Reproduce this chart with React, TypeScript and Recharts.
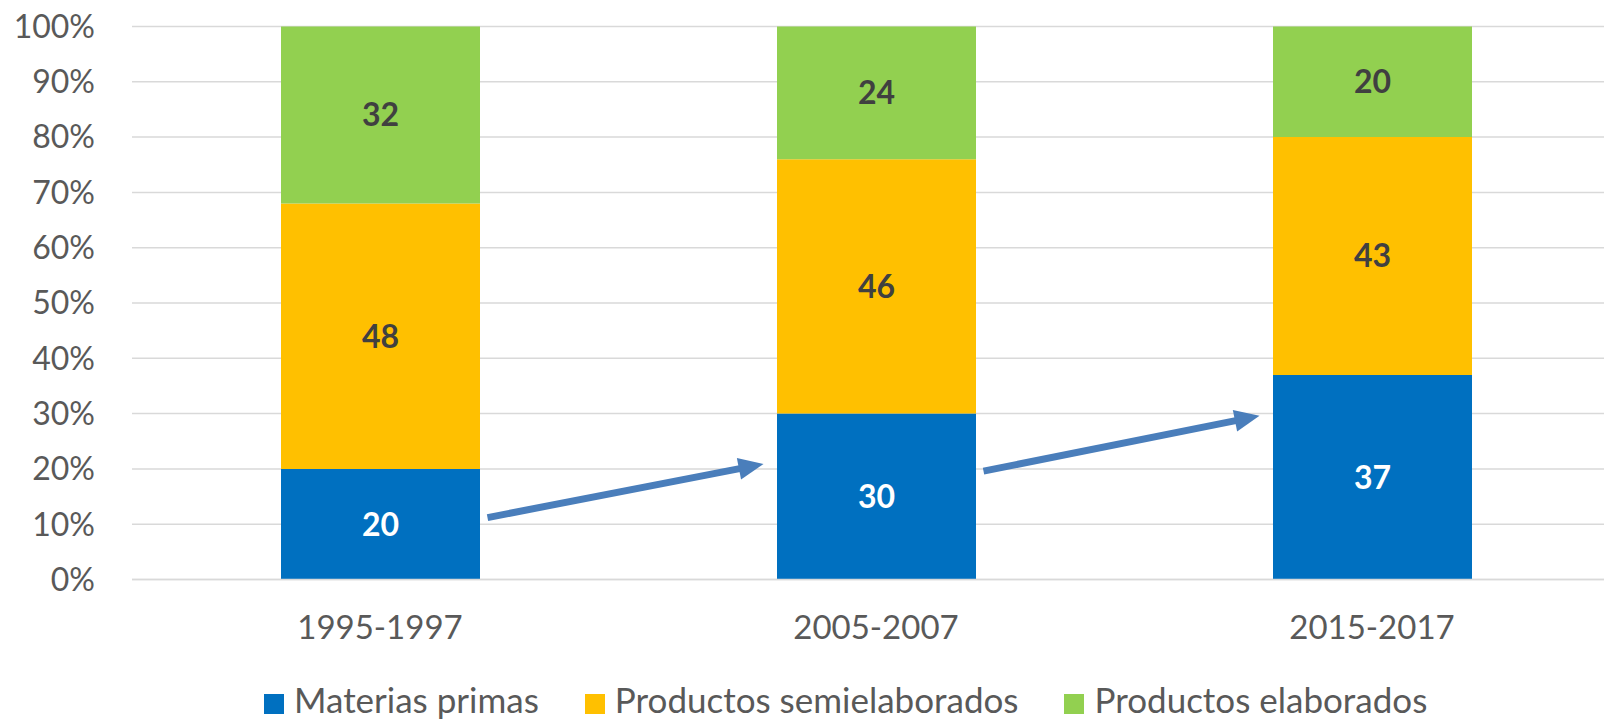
import { BarChart, Bar, XAxis, YAxis, CartesianGrid, LabelList, Legend, ReferenceLine } from 'recharts';

const periods = ['1995-1997', '2005-2007', '2015-2017'];
const materiasPrimas = [20, 30, 37];
const semielaborados = [48, 46, 43];
const elaborados = [32, 24, 20];
const yTicks = [0, 10, 20, 30, 40, 50, 60, 70, 80, 90, 100];

// flechas de tendencia (desde / hasta, en % del eje)
const arrows = [
  { from: '1995-1997', to: '2005-2007', y1: 11.2, y2: 20.9 },
  { from: '2005-2007', to: '2015-2017', y1: 19.6, y2: 29.6 },
];

const SERIES = [
  { key: 'materias', name: 'Materias primas', color: '#0070c0', label: '#ffffff' },
  { key: 'semi', name: 'Productos semielaborados', color: '#ffc000', label: '#404040' },
  { key: 'elab', name: 'Productos elaborados', color: '#92d050', label: '#404040' },
];

const data = periods.map((p, i) => ({
  period: p,
  materias: materiasPrimas[i],
  semi: semielaborados[i],
  elab: elaborados[i],
}));

const FONT = 'Lato, "Open Sans", sans-serif';
const BAR_SIZE = 199;
const ARROW_COLOR = '#4a7ebb';

function Arrow(props: any) {
  const { x1, y1, x2, y2 } = props;
  if ([x1, y1, x2, y2].some((v) => typeof v !== 'number')) return null;
  const sx = x1 + BAR_SIZE / 2 + 8;
  const ex = x2 - BAR_SIZE / 2 - 13;
  const dx = ex - sx;
  const dy = y2 - y1;
  const len = Math.sqrt(dx * dx + dy * dy);
  const ux = dx / len;
  const uy = dy / len;
  const headLen = 25;
  const headW = 11;
  const bx = ex - ux * headLen;
  const by = y2 - uy * headLen;
  const px = -uy;
  const py = ux;
  return (
    <g>
      <line x1={sx} y1={y1} x2={bx + ux * 2} y2={by + uy * 2} stroke={ARROW_COLOR} strokeWidth={7} />
      <polygon
        points={`${ex},${y2} ${bx + px * headW},${by + py * headW} ${bx - px * headW},${by - py * headW}`}
        fill={ARROW_COLOR}
      />
    </g>
  );
}

function LegendContent() {
  return (
    <div
      style={{
        height: 80,
        boxSizing: 'border-box',
        paddingTop: 42,
        paddingLeft: 264,
        display: 'flex',
        alignItems: 'flex-start',
        fontFamily: FONT,
        fontSize: 35,
        color: '#595959',
        lineHeight: '35px',
      }}
    >
      {SERIES.map((s) => (
        <div key={s.key} style={{ display: 'flex', alignItems: 'flex-start', marginRight: 46 }}>
          <span style={{ width: 20, height: 20, background: s.color, marginRight: 10, marginTop: 12, display: 'inline-block' }} />
          <span>{s.name}</span>
        </div>
      ))}
    </div>
  );
}

export default function App() {
  return (
    <div style={{ position: 'absolute', left: 0, top: 0, width: 1604, height: 720, overflow: 'hidden', background: '#fff' }}>
      <BarChart
        width={1620}
        height={720}
        data={data}
        margin={{ top: 26.5, right: 0, left: 0, bottom: 0.5 }}
      >
        <CartesianGrid vertical={false} stroke="#d9d9d9" strokeWidth={1.5} />
        <XAxis
          dataKey="period"
          height={60}
          axisLine={{ stroke: '#d9d9d9', strokeWidth: 1.5 }}
          tickLine={false}
          tickSize={0}
          tickMargin={36}
          tick={{ fontSize: 33, fill: '#595959', fontFamily: FONT }}
        />
        <YAxis
          domain={[0, 100]}
          ticks={yTicks}
          width={132}
          axisLine={false}
          tickLine={false}
          tickSize={0}
          tickMargin={37}
          tickFormatter={(v) => `${v}%`}
          tick={{ fontSize: 32, fill: '#595959', fontFamily: FONT }}
        />
        <Legend verticalAlign="bottom" align="left" content={<LegendContent />} wrapperStyle={{ left: 0, width: 1620 }} />
        {SERIES.map((s) => (
          <Bar key={s.key} dataKey={s.key} name={s.name} stackId="a" fill={s.color} barSize={BAR_SIZE} isAnimationActive={false}>
            <LabelList
              dataKey={s.key}
              position="center"
              fill={s.label}
              style={{ fontSize: 32, fontWeight: 700, fontFamily: FONT }}
            />
          </Bar>
        ))}
        {arrows.map((a, i) => (
          <ReferenceLine
            key={i}
            segment={[{ x: a.from, y: a.y1 }, { x: a.to, y: a.y2 }]}
            shape={<Arrow />}
          />
        ))}
      </BarChart>
    </div>
  );
}
